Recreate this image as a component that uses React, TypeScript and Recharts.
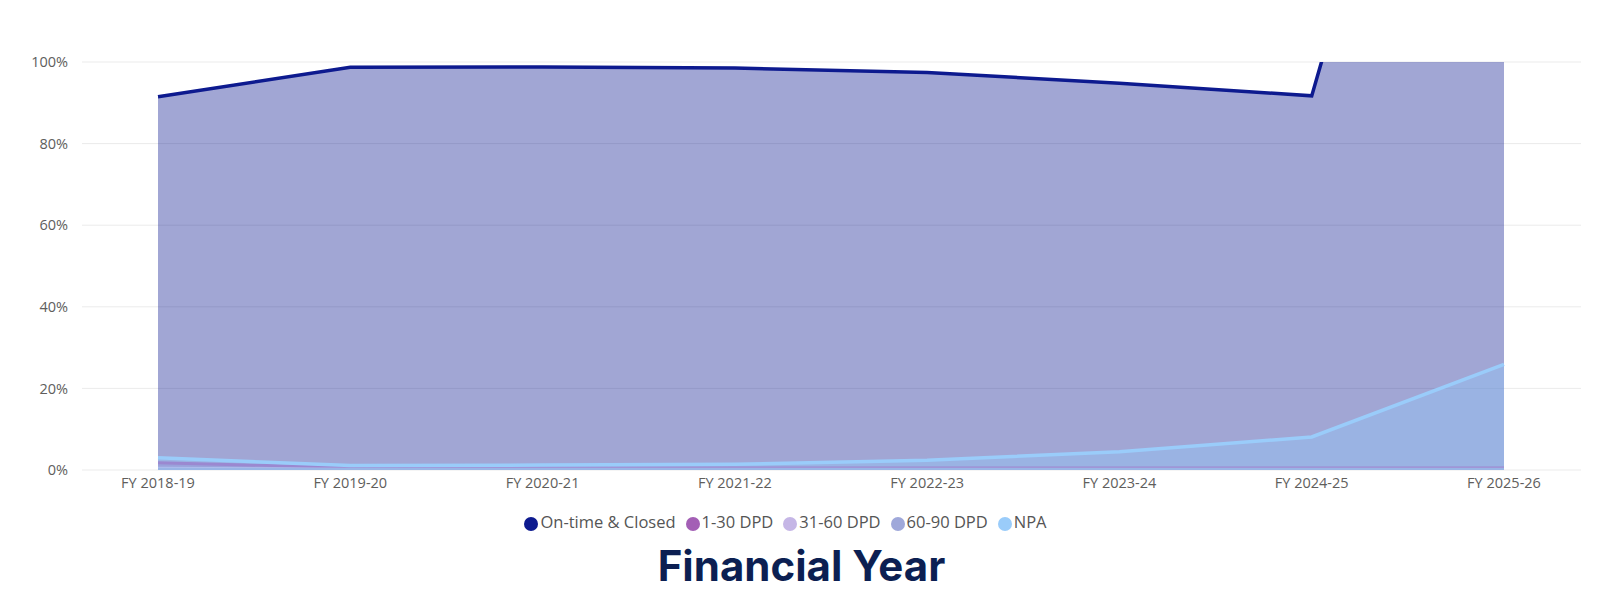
import React from 'react';
import {
  ComposedChart,
  Area,
  XAxis,
  YAxis,
  CartesianGrid,
  Legend,
} from 'recharts';

const years = [
  'FY 2018-19',
  'FY 2019-20',
  'FY 2020-21',
  'FY 2021-22',
  'FY 2022-23',
  'FY 2023-24',
  'FY 2024-25',
  'FY 2025-26',
];
const onTimeClosed = [91.5, 98.7, 98.8, 98.5, 97.4, 94.8, 91.7, 255];
const dpd1to30 = [1.8, 0.6, 0.5, 0.5, 0.5, 0.5, 0.5, 0.5];
const dpd31to60 = [0.4, 0.2, 0.2, 0.2, 0.2, 0.2, 0.2, 0.2];
const dpd60to90 = [0.2, 0.1, 0.1, 0.1, 0.1, 0.1, 0.1, 0.1];
const npa = [3.0, 1.1, 1.2, 1.4, 2.4, 4.5, 8.1, 25.9];
const yTicks = [0, 20, 40, 60, 80, 100];
const legendOrder = ['On-time & Closed', '1-30 DPD', '31-60 DPD', '60-90 DPD', 'NPA'];

const data = years.map((fy, i) => ({
  fy,
  onTime: onTimeClosed[i],
  d1: dpd1to30[i],
  d31: dpd31to60[i],
  d60: dpd60to90[i],
  npa: npa[i],
}));

const FONT = "'Segoe UI', 'Open Sans', 'Noto Sans', sans-serif";

export default function App() {
  return (
    <div
      style={{
        position: 'absolute',
        left: 0,
        top: 0,
        width: 1603,
        height: 602,
        background: '#ffffff',
        fontFamily: FONT,
      }}
    >
      <ComposedChart
        width={1603}
        height={602}
        data={data}
        margin={{ top: 62, right: 22, left: 0, bottom: 68 }}
      >
        <CartesianGrid vertical={false} stroke="#ebebeb" strokeWidth={1} />
        <XAxis
          dataKey="fy"
          axisLine={false}
          tickLine={false}
          height={40}
          padding={{ left: 76, right: 77 }}
          tick={{ fill: '#605e5c', fontSize: 14.5, fontFamily: FONT }}
          interval={0}
        />
        <YAxis
          width={82}
          domain={[0, 100]}
          ticks={yTicks}
          allowDataOverflow
          axisLine={false}
          tickLine={false}
          tickMargin={8}
          tickFormatter={(v) => `${v}%`}
          tick={{ fill: '#605e5c', fontSize: 14.5, fontFamily: FONT }}
        />
        <Area
          type="linear"
          dataKey="onTime"
          name="On-time & Closed"
          stroke="#0d1a8f"
          strokeWidth={3.5}
          fill="#0d1a8f"
          fillOpacity={0.39}
          dot={false}
          activeDot={false}
          isAnimationActive={false}
        />
        <Area
          type="linear"
          dataKey="d1"
          name="1-30 DPD"
          stroke="#a35fb5"
          strokeWidth={3}
          fill="#a35fb5"
          fillOpacity={0.39}
          dot={false}
          activeDot={false}
          isAnimationActive={false}
        />
        <Area
          type="linear"
          dataKey="d31"
          name="31-60 DPD"
          stroke="#c5b6e6"
          strokeWidth={3}
          fill="#c5b6e6"
          fillOpacity={0.39}
          dot={false}
          activeDot={false}
          isAnimationActive={false}
        />
        <Area
          type="linear"
          dataKey="d60"
          name="60-90 DPD"
          stroke="#9fa8da"
          strokeWidth={3}
          fill="#9fa8da"
          fillOpacity={0.39}
          dot={false}
          activeDot={false}
          isAnimationActive={false}
        />
        <Area
          type="linear"
          dataKey="npa"
          name="NPA"
          stroke="#9accfa"
          strokeWidth={3.5}
          fill="#90caf9"
          fillOpacity={0.39}
          dot={false}
          activeDot={false}
          isAnimationActive={false}
        />
        <Legend
          verticalAlign="bottom"
          align="center"
          iconType="circle"
          iconSize={14}
          itemSorter={(item: any) => legendOrder.indexOf(item.value)}
          wrapperStyle={{ height: 24, lineHeight: '24px', fontFamily: FONT, whiteSpace: 'nowrap' }}
          formatter={(value) => (
            <span style={{ color: '#555555', fontSize: 16.5, marginLeft: -2 }}>{value}</span>
          )}
        />
      </ComposedChart>
      <div
        style={{
          position: 'absolute',
          left: 0,
          top: 538,
          width: 1603,
          textAlign: 'center',
          fontFamily: "'Inter', 'Lato', sans-serif",
          fontWeight: 700,
          fontSize: 42,
          lineHeight: '56px',
          color: '#0c1f52',
        }}
      >
        Financial Year
      </div>
    </div>
  );
}
